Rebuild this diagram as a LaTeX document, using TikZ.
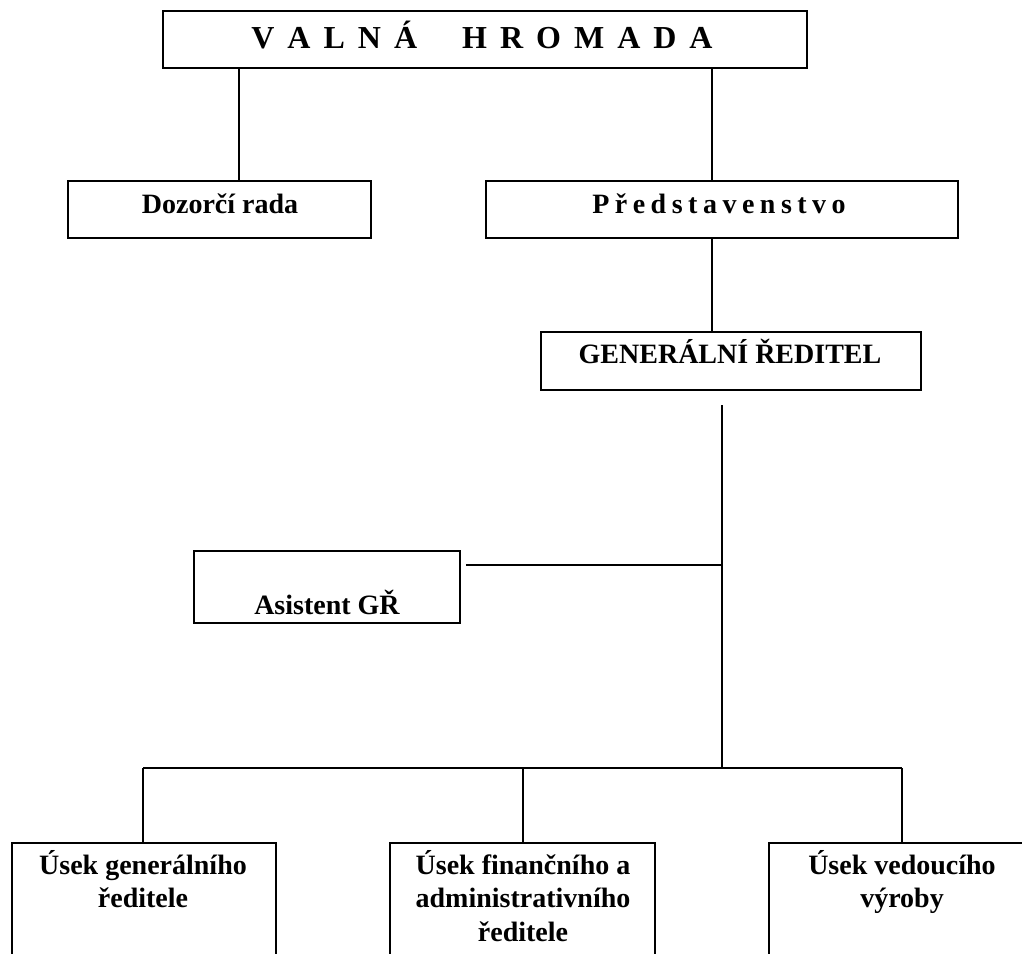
\documentclass[tikz,border=0pt]{standalone}
\usepackage{fontspec}
\setmainfont{Liberation Serif}
\newcommand\lka{\kern13pt}
\newcommand\lkb{\kern5.5pt}
\begin{document}
\begin{tikzpicture}[x=1pt,y=-1pt,
  box/.style={draw, line width=1.8pt, rectangle, inner sep=0pt},
  txt/.style={font=\fontsize{28}{33.5}\selectfont\bfseries, anchor=base, inner sep=0pt, align=center},
  conn/.style={line width=1.5pt},
  busline/.style={line width=2.8pt},
  drop/.style={line width=1.9pt}]
\useasboundingbox (0,0) rectangle (1022,953);
\clip (0,0) rectangle (1022,953);
% boxes
\node[box, minimum width=644pt, minimum height=57pt] (vh) at (485,39.5) {};
\node[box, minimum width=303pt, minimum height=57pt] (dr) at (219.5,209.5) {};
\node[box, minimum width=472pt, minimum height=57pt] (pr) at (722,209.5) {};
\node[box, minimum width=380pt, minimum height=58pt] (gr) at (731,361) {};
\node[box, minimum width=266pt, minimum height=72pt] (as) at (327,587) {};
\node[box, minimum width=264pt, minimum height=157pt] (b1) at (144,921.5) {};
\node[box, minimum width=265pt, minimum height=157pt] (b2) at (522.5,921.5) {};
\node[box, minimum width=266pt, minimum height=157pt] (b3) at (902,921.5) {};
% texts
\node[txt, font=\fontsize{32}{36}\selectfont\bfseries] (vht) at (482,48) {V\lka A\lka L\lka N\lka Á\kern45pt H\lka R\lka O\lka M\lka A\lka D\lka A};
\node[txt] (drt) at (220,213) {Dozorčí rada};
\node[txt] (prt) at (719,213) {P\lkb ř\lkb e\lkb d\lkb s\lkb t\lkb a\lkb v\lkb e\lkb n\lkb s\lkb t\lkb v\lkb o};
\node[txt] (grt) at (730,363) {GENERÁLNÍ ŘEDITEL};
\node[txt] (ast) at (327,614) {Asistent GŘ};
\node[txt] (b1t) at (143,907.5) {Úsek generálního\\ředitele};
\node[txt] (b2t) at (523,941) {Úsek finančního a\\administrativního\\ředitele};
\node[txt] (b3t) at (902,907.5) {Úsek vedoucího\\výroby};
% connectors
\draw[conn] (239,0 |- vh.south) -- (239,0 |- dr.north);
\draw[conn] (712,0 |- vh.south) -- (712,0 |- pr.north);
\draw[conn] (712,0 |- pr.south) -- (712,0 |- gr.north);
\coordinate (gtop) at (722,405);
\coordinate (ajoin) at (722,565);
\coordinate (bus) at (722,768);
\draw[conn] (gtop) -- (bus);
\draw[line width=2.2pt] ([xshift=5pt]as.east |- ajoin) -- (ajoin);
\draw[busline] (143,0 |- bus) -- (b3.north |- bus);
\draw[drop] (143,0 |- b1.north) -- (143,0 |- bus);
\draw[drop] (523,0 |- b2.north) -- (523,0 |- bus);
\draw[drop] (b3.north) -- (b3.north |- bus);
\end{tikzpicture}
\end{document}
